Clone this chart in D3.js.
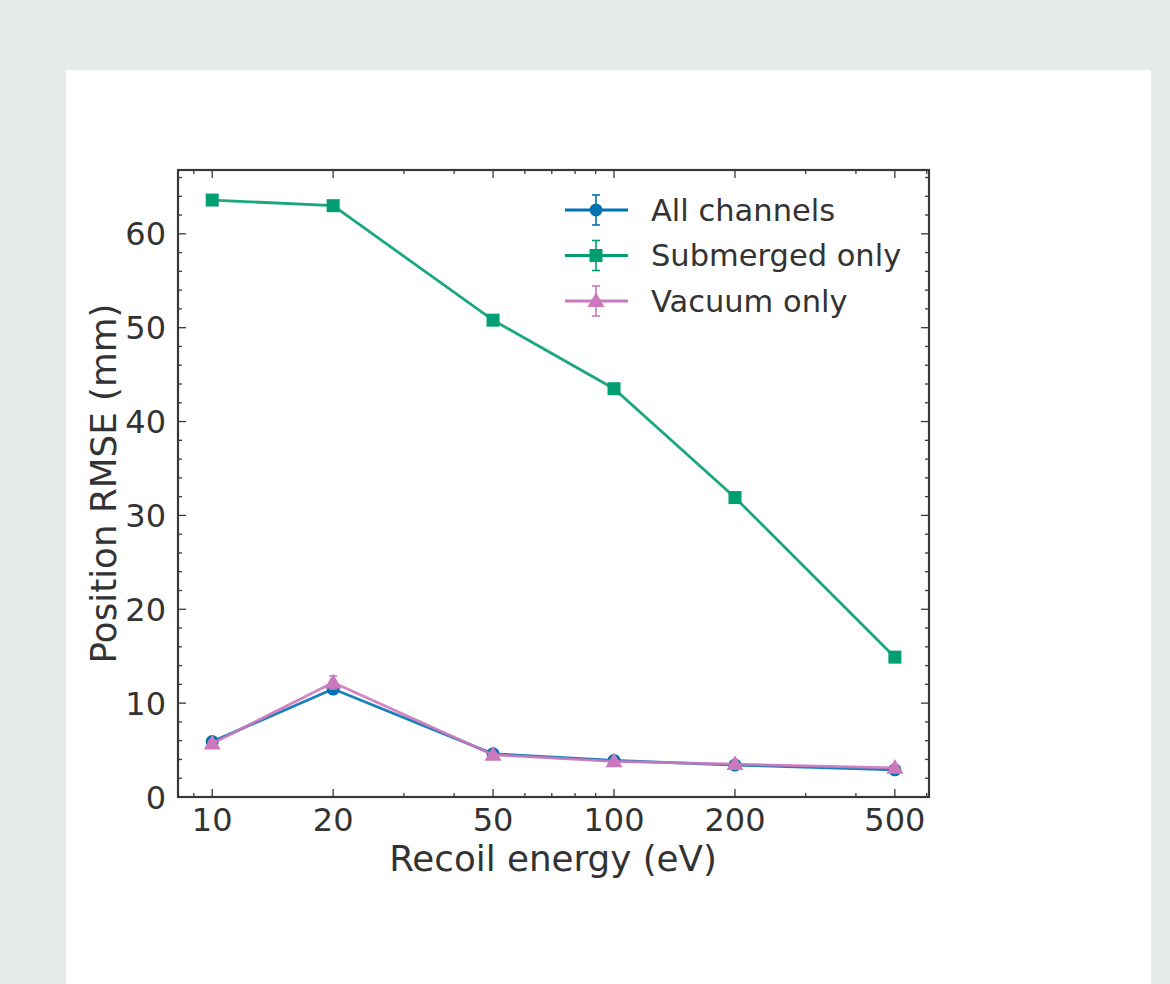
<!DOCTYPE html>
<html lang="en">
<head>
<meta charset="UTF-8">
<title>Position RMSE vs recoil energy</title>
<script src="https://d3js.org/d3.v7.min.js"></script>
<style>
  * { margin: 0; padding: 0; box-sizing: border-box; }
  body { background: #e8ece9; width: 1170px; height: 984px; overflow: hidden; font-family: 'DejaVu Sans', sans-serif; }
  #card { position: absolute; left: 66px; top: 70px; width: 1085px; height: 914px; background: #fff; }
  svg { position: absolute; left: 0; top: 0; }
</style>
</head>
<body>
<div id="card"></div>
<svg id="chart" width="1170" height="984"></svg>
<script>
var energies = [10, 20, 50, 100, 200, 500];
var xTickLabels = ['10', '20', '50', '100', '200', '500'];
var yTicks = [0, 10, 20, 30, 40, 50, 60];

var allChannels = [5.9, 11.5, 4.6, 3.9, 3.4, 2.9];
var allChannelsErr = [0.3, 0.4, 0.2, 0.2, 0.2, 0.2];
var submerged = [63.6, 63.0, 50.8, 43.5, 31.9, 14.9];
var submergedErr = [0.3, 0.3, 0.3, 0.3, 0.3, 0.3];
var vacuum = [5.7, 12.2, 4.5, 3.8, 3.5, 3.1];
var vacuumErr = [0.3, 0.7, 0.2, 0.2, 0.2, 0.2];

var seriesNames = ['All channels', 'Submerged only', 'Vacuum only'];
var seriesColors = ['#0173b2', '#029e73', '#cc78bc'];
var seriesMarkers = ['circle', 'square', 'triangle'];

var series = [
  { name: seriesNames[0], values: allChannels, err: allChannelsErr, color: seriesColors[0], marker: seriesMarkers[0] },
  { name: seriesNames[1], values: submerged, err: submergedErr, color: seriesColors[1], marker: seriesMarkers[1] },
  { name: seriesNames[2], values: vacuum, err: vacuumErr, color: seriesColors[2], marker: seriesMarkers[2] }
];

var plotLeft = 178, plotRight = 929, plotTop = 170, plotBottom = 797;
var textColor = '#333';
var axisColor = '#383838';

var svg = d3.select('#chart');

var x = d3.scaleLog().domain([8.22, 608]).range([plotLeft, plotRight]);
var y = d3.scaleLinear().domain([0, 66.8]).range([plotBottom, plotTop]);

var g = svg.append('g');

// minor / major ticks on all four sides, pointing inward
var minorX = [];
[1, 10, 100].forEach(function(dec) {
  for (var k = 1; k <= 9; k++) {
    var v = dec * k;
    if (v >= 8.22 && v <= 608 && energies.indexOf(v) < 0) minorX.push(v);
  }
});
var minorY = d3.range(0, 67, 2).filter(function(v) { return v % 10 !== 0; });

function tickLines(vals, len, horizontal) {
  vals.forEach(function(v) {
    if (horizontal) {
      var px = x(v);
      g.append('line').attr('x1', px).attr('x2', px).attr('y1', plotBottom).attr('y2', plotBottom - len).attr('stroke', axisColor).attr('stroke-width', 1.3);
      g.append('line').attr('x1', px).attr('x2', px).attr('y1', plotTop).attr('y2', plotTop + len).attr('stroke', axisColor).attr('stroke-width', 1.3);
    } else {
      var py = y(v);
      g.append('line').attr('x1', plotLeft).attr('x2', plotLeft + len).attr('y1', py).attr('y2', py).attr('stroke', axisColor).attr('stroke-width', 1.3);
      g.append('line').attr('x1', plotRight).attr('x2', plotRight - len).attr('y1', py).attr('y2', py).attr('stroke', axisColor).attr('stroke-width', 1.3);
    }
  });
}
tickLines(minorX, 4, true);
tickLines(energies, 8, true);
tickLines(minorY, 4, false);
tickLines(yTicks, 8, false);

// tick labels
g.selectAll('.xl').data(energies).join('text')
  .attr('x', function(d) { return x(d); })
  .attr('y', 831)
  .attr('text-anchor', 'middle')
  .attr('font-size', 32)
  .attr('fill', textColor)
  .text(function(d, i) { return xTickLabels[i]; });

g.selectAll('.yl').data(yTicks).join('text')
  .attr('x', 166)
  .attr('y', function(d) { return y(d) + 11.5; })
  .attr('text-anchor', 'end')
  .attr('font-size', 32)
  .attr('fill', textColor)
  .text(function(d) { return d; });

// axis labels
g.append('text').attr('x', 553).attr('y', 871).attr('text-anchor', 'middle')
  .attr('font-size', 35.7).attr('fill', textColor).text('Recoil energy (eV)');
g.append('text').attr('transform', 'translate(116,' + ((plotTop + plotBottom) / 2) + ') rotate(-90)')
  .attr('text-anchor', 'middle').attr('font-size', 35.7).attr('fill', textColor).text('Position RMSE (mm)');

function drawMarker(sel, type, color, cx, cy) {
  if (type === 'circle') {
    sel.append('circle').attr('cx', cx).attr('cy', cy).attr('r', 6.5).attr('fill', color);
  } else if (type === 'square') {
    sel.append('rect').attr('x', cx - 6.5).attr('y', cy - 6.5).attr('width', 13).attr('height', 13).attr('fill', color);
  } else {
    sel.append('path').attr('d', d3.symbol().type(d3.symbolTriangle).size(125)()).attr('transform', 'translate(' + cx + ',' + (cy + 1) + ')').attr('fill', color);
  }
}

var line = d3.line().x(function(d) { return x(d[0]); }).y(function(d) { return y(d[1]); });

series.forEach(function(s) {
  var sg = g.append('g');
  var pts = energies.map(function(e, i) { return [e, s.values[i], s.err[i]]; });
  sg.append('path').datum(pts).attr('d', line).attr('fill', 'none').attr('stroke', s.color).attr('stroke-width', 2.8).attr('stroke-opacity', 0.9);
  pts.forEach(function(p) {
    var px = x(p[0]);
    sg.append('line').attr('x1', px).attr('x2', px).attr('y1', y(p[1] - p[2])).attr('y2', y(p[1] + p[2])).attr('stroke', s.color).attr('stroke-width', 1.6);
    [p[1] - p[2], p[1] + p[2]].forEach(function(v) {
      sg.append('line').attr('x1', px - 4).attr('x2', px + 4).attr('y1', y(v)).attr('y2', y(v)).attr('stroke', s.color).attr('stroke-width', 1.6);
    });
    drawMarker(sg, s.marker, s.color, px, y(p[1]));
  });
});

// frame
g.append('rect').attr('x', plotLeft).attr('y', plotTop).attr('width', plotRight - plotLeft).attr('height', plotBottom - plotTop)
  .attr('fill', 'none').attr('stroke', axisColor).attr('stroke-width', 2.2);

// legend
var legend = g.append('g');
series.forEach(function(s, i) {
  var ly = 210 + i * 45.5;
  legend.append('line').attr('x1', 565).attr('x2', 628).attr('y1', ly).attr('y2', ly).attr('stroke', s.color).attr('stroke-width', 2.8);
  legend.append('line').attr('x1', 596).attr('x2', 596).attr('y1', ly - 15).attr('y2', ly + 15).attr('stroke', s.color).attr('stroke-width', 1.6);
  [ly - 15, ly + 15].forEach(function(v) {
    legend.append('line').attr('x1', 592).attr('x2', 600).attr('y1', v).attr('y2', v).attr('stroke', s.color).attr('stroke-width', 1.6);
  });
  drawMarker(legend, s.marker, s.color, 596, ly);
  legend.append('text').attr('x', 651).attr('y', ly + 10.5).attr('font-size', 30.5).attr('fill', textColor).text(s.name);
});
</script>
</body>
</html>
